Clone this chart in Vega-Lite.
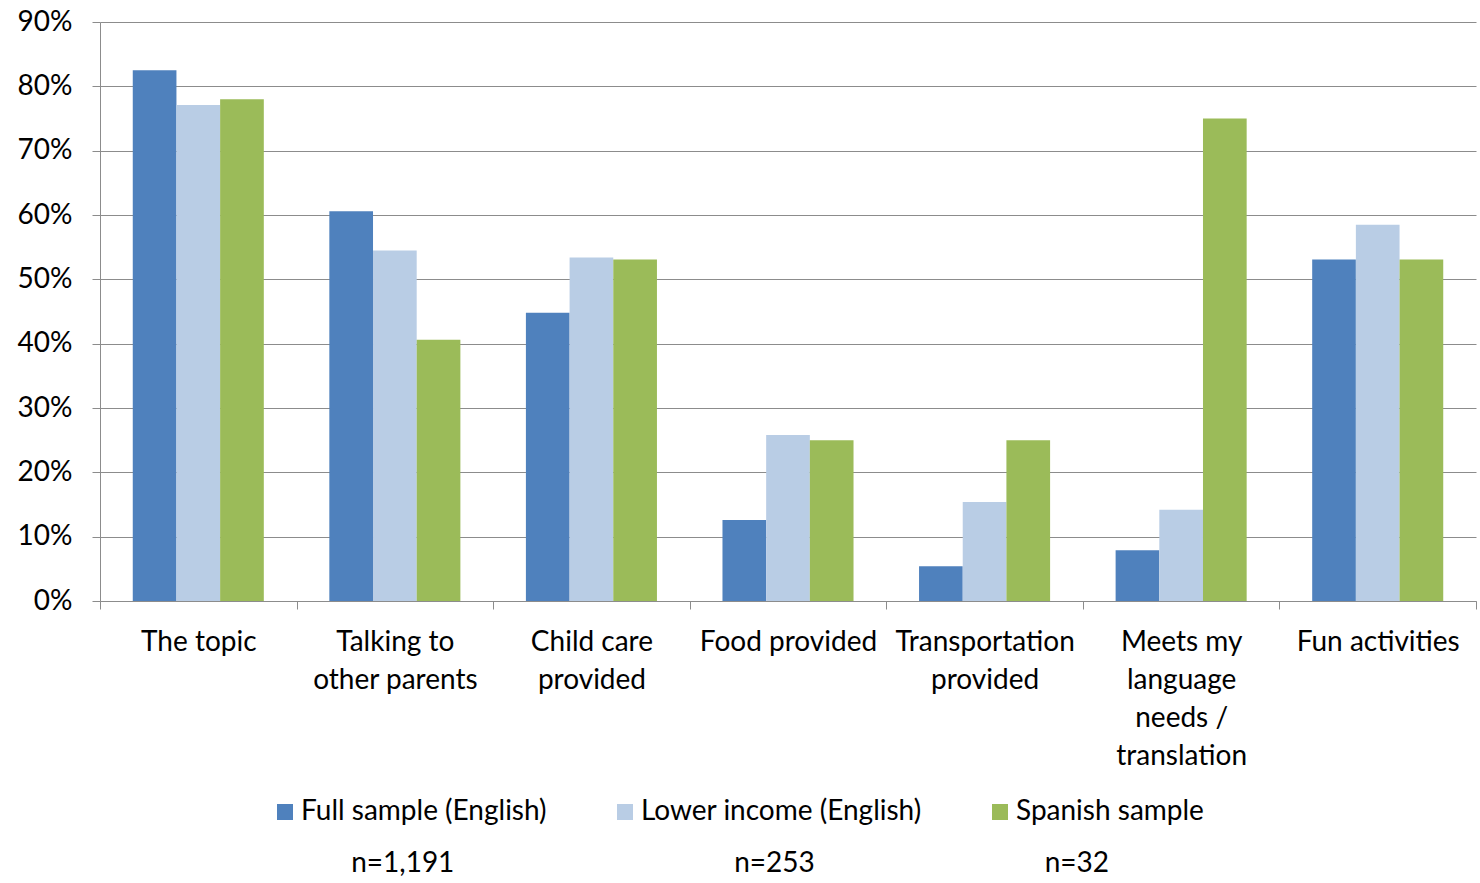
{
  "$schema": "https://vega.github.io/schema/vega-lite/v6.json",
  "width": 1376,
  "height": 579,
  "autosize": {"type": "none"},
  "padding": {"left": 100, "top": 22, "right": 4, "bottom": 282},
  "background": "white",
  "data": {
    "values": [
      {"category": "The topic", "series": "Full sample (English)", "value": 0.825},
      {"category": "The topic", "series": "Lower income (English)", "value": 0.771},
      {"category": "The topic", "series": "Spanish sample", "value": 0.78},
      {"category": "Talking to other parents", "series": "Full sample (English)", "value": 0.606},
      {"category": "Talking to other parents", "series": "Lower income (English)", "value": 0.545},
      {"category": "Talking to other parents", "series": "Spanish sample", "value": 0.406},
      {"category": "Child care provided", "series": "Full sample (English)", "value": 0.448},
      {"category": "Child care provided", "series": "Lower income (English)", "value": 0.534},
      {"category": "Child care provided", "series": "Spanish sample", "value": 0.531},
      {"category": "Food provided", "series": "Full sample (English)", "value": 0.126},
      {"category": "Food provided", "series": "Lower income (English)", "value": 0.258},
      {"category": "Food provided", "series": "Spanish sample", "value": 0.25},
      {"category": "Transportation provided", "series": "Full sample (English)", "value": 0.054},
      {"category": "Transportation provided", "series": "Lower income (English)", "value": 0.154},
      {"category": "Transportation provided", "series": "Spanish sample", "value": 0.25},
      {"category": "Meets my language needs / translation", "series": "Full sample (English)", "value": 0.079},
      {"category": "Meets my language needs / translation", "series": "Lower income (English)", "value": 0.142},
      {"category": "Meets my language needs / translation", "series": "Spanish sample", "value": 0.75},
      {"category": "Fun activities", "series": "Full sample (English)", "value": 0.531},
      {"category": "Fun activities", "series": "Lower income (English)", "value": 0.585},
      {"category": "Fun activities", "series": "Spanish sample", "value": 0.531}
    ]
  },
  "mark": {"type": "bar"},
  "encoding": {
    "x": {
      "field": "category",
      "type": "nominal",
      "sort": null,
      "scale": {"paddingInner": 0, "paddingOuter": 0},
      "axis": {
        "title": null,
        "labelAngle": 0,
        "labelFont": "Lato",
        "labelFontSize": 28,
        "labelColor": "#000000",
        "labelBaseline": "top",
        "labelPadding": 19,
        "labelLineHeight": 38,
        "labelLimit": 300,
        "tickBand": "extent",
        "tickSize": 8,
        "tickColor": "#8c8c8c",
        "domainColor": "#8c8c8c",
        "labelExpr": "datum.value == 'Talking to other parents' ? ['Talking to','other parents'] : datum.value == 'Child care provided' ? ['Child care','provided'] : datum.value == 'Transportation provided' ? ['Transportation','provided'] : datum.value == 'Meets my language needs / translation' ? ['Meets my','language','needs /','translation'] : datum.value"
      }
    },
    "xOffset": {
      "field": "series",
      "type": "nominal",
      "sort": ["Full sample (English)", "Lower income (English)", "Spanish sample"],
      "scale": {"paddingInner": 0, "paddingOuter": 0.75}
    },
    "y": {
      "field": "value",
      "type": "quantitative",
      "scale": {"domain": [0, 0.9], "nice": false},
      "axis": {
        "title": null,
        "format": ".0%",
        "values": [0, 0.1, 0.2, 0.3, 0.4, 0.5, 0.6, 0.7, 0.8, 0.9],
        "labelFont": "Lato",
        "labelFontSize": 28,
        "labelColor": "#000000",
        "labelPadding": 20,
        "tickSize": 8,
        "tickColor": "#8c8c8c",
        "domainColor": "#8c8c8c",
        "grid": true,
        "gridColor": "#8c8c8c",
        "gridWidth": 1
      }
    },
    "color": {
      "field": "series",
      "type": "nominal",
      "sort": ["Full sample (English)", "Lower income (English)", "Spanish sample"],
      "scale": {
        "domain": ["Full sample (English)", "Lower income (English)", "Spanish sample"],
        "range": ["#4f81bd", "#b9cde5", "#9bbb59"]
      },
      "legend": {
        "title": null,
        "orient": "none",
        "direction": "horizontal",
        "legendX": 171,
        "legendY": 776,
        "symbolType": "square",
        "symbolSize": 256,
        "symbolStrokeWidth": 0,
        "labelFont": "Lato",
        "labelFontSize": 28,
        "labelColor": "#000000",
        "labelLimit": 400,
        "labelOffset": 2,
        "columnPadding": 64,
        "labelExpr": "datum.value == 'Full sample (English)' ? ['Full sample (English)', '\u200b\u00a0\u00a0\u00a0\u00a0\u00a0\u00a0\u00a0n=1,191'] : datum.value == 'Lower income (English)' ? ['Lower income (English)', '\u200b\u00a0\u00a0\u00a0\u00a0\u00a0\u00a0\u00a0\u00a0\u00a0\u00a0\u00a0\u00a0\u00a0n=253'] : ['Spanish sample', '\u200b\u00a0\u00a0\u00a0\u00a0n=32']"
      }
    }
  },
  "config": {
    "view": {"stroke": null},
    "style": {"guide-label": {"lineHeight": 52}}
  }
}
